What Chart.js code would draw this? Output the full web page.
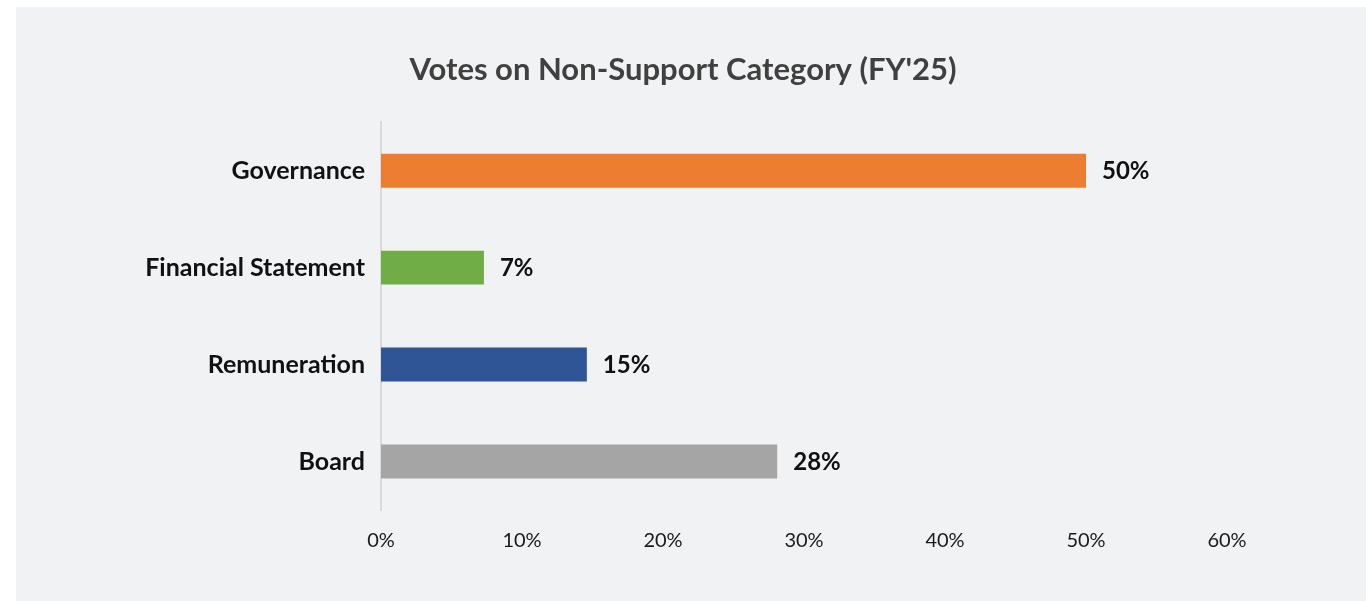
<!DOCTYPE html>
<html>
<head>
<meta charset="utf-8">
<title>Votes on Non-Support Category (FY'25)</title>
<script src="https://cdn.jsdelivr.net/npm/chart.js@4"></script>
<style>
    html, body {
        margin: 0;
        padding: 0;
        background: #ffffff;
        overflow: hidden;
    }
    .panel {
        position: absolute;
        left: 16px;
        top: 7px;
        width: 1350px;
        height: 594px;
        background: #f1f2f4;
    }
</style>
</head>
<body>
<div class="panel">
    <canvas id="voteChart" width="1350" height="594"></canvas>
</div>
<script>
// Chart data
const CATEGORIES = ['Governance', 'Financial Statement', 'Remuneration', 'Board'];
const VALUES = [50, 7.3, 14.6, 28.1];
const VALUE_LABELS = ['50%', '7%', '15%', '28%'];
const BAR_COLORS = ['#ed7d31', '#70ad47', '#2f5597', '#a5a5a5'];
const X_MAX = 60;
const X_STEP = 10;

const FONT = 'Lato, "Open Sans", sans-serif';

// Value labels at the end of each bar
const barValueLabels = {
    id: 'barValueLabels',
    afterDatasetsDraw: (chart) => {
        const { ctx } = chart;
        const meta = chart.getDatasetMeta(0);
        ctx.save();
        ctx.font = 'bold 24px ' + FONT;
        ctx.fillStyle = '#111111';
        ctx.textAlign = 'left';
        ctx.textBaseline = 'middle';
        meta.data.forEach((bar, i) => {
            ctx.fillText(VALUE_LABELS[i], bar.x + 16, bar.y + 1);
        });
        ctx.restore();
    }
};

const ctx = document.getElementById('voteChart').getContext('2d');

new Chart(ctx, {
    type: 'bar',
    data: {
        labels: CATEGORIES,
        datasets: [{
            data: VALUES,
            backgroundColor: BAR_COLORS,
            borderWidth: 0,
            categoryPercentage: 1,
            barPercentage: 0.35
        }]
    },
    options: {
        indexAxis: 'y',
        responsive: false,
        animation: false,
        layout: {
            padding: { top: 0, right: 139, bottom: 29, left: 123 }
        },
        plugins: {
            legend: { display: false },
            tooltip: { enabled: false },
            title: {
                display: true,
                text: "Votes on Non-Support Category (FY'25)",
                color: '#404040',
                font: { family: FONT, size: 31, weight: 'bold' },
                padding: { top: 44, bottom: 34 }
            }
        },
        scales: {
            x: {
                min: 0,
                max: X_MAX,
                grid: { display: false, drawTicks: false },
                border: { display: false },
                ticks: {
                    stepSize: X_STEP,
                    padding: 19,
                    color: '#1a1a1a',
                    font: { family: FONT, size: 20 },
                    callback: (value) => value + '%'
                }
            },
            y: {
                grid: { display: false, drawTicks: false },
                border: { display: true, color: '#d9d9d9', width: 2 },
                ticks: {
                    padding: 16,
                    color: '#111111',
                    font: { family: FONT, size: 25, weight: 'bold' }
                },
                afterFit: (scale) => { scale.width = 242; }
            }
        }
    },
    plugins: [barValueLabels]
});
</script>
</body>
</html>
